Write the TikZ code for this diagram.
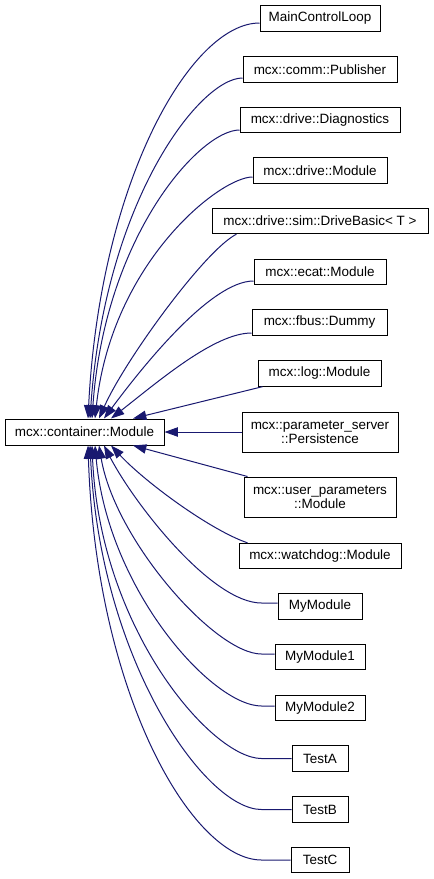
\documentclass[tikz,border=0pt]{standalone}
\usepackage{fontspec}
\setmainfont{Liberation Sans}
\usetikzlibrary{arrows.meta,calc}
\definecolor{edgeblue}{HTML}{191970}
\begin{document}
\begin{tikzpicture}[x=0.75pt,y=-0.75pt,
  cls/.style={draw=black,line width=0.75pt,fill=white,inner sep=0pt,
    minimum height=19pt,align=center,font=\fontsize{10.1}{10.6}\selectfont},
  inh/.style={draw=edgeblue,line width=0.75pt,-{Triangle[length=10pt,width=7pt]}}]
\useasboundingbox[fill=white] (0,0) rectangle (433,879);

\node[cls,minimum width=119.25pt,minimum height=19.5pt] (cont) at (84.5,432) {mcx::container::Module};

\node[cls,minimum width=90pt]    (main)   at (320,18.5)  {MainControlLoop};
\node[cls,minimum width=115.5pt] (pub)    at (320,69.5)  {mcx::comm::Publisher};
\node[cls,minimum width=120pt]   (diag)   at (320,120)   {mcx::drive::Diagnostics};
\node[cls,minimum width=100.5pt] (dmod)   at (320,170.5) {mcx::drive::Module};
\node[cls,minimum width=162pt]   (dbasic) at (320,221)   {mcx::drive::sim::DriveBasic< T >};
\node[cls,minimum width=99pt]    (ecat)   at (320,272)   {mcx::ecat::Module};
\node[cls,minimum width=101.25pt](fbus)   at (319.5,322.5) {mcx::fbus::Dummy};
\node[cls,minimum width=92.25pt] (log)    at (319.5,373.5) {mcx::log::Module};
\node[cls,minimum width=117pt,minimum height=30pt] (pers) at (320,432) {mcx::parameter\_server\\::Persistence};
\node[cls,minimum width=114pt,minimum height=30pt] (upar) at (320,497) {mcx::user\_parameters\\::Module};
\node[cls,minimum width=121.5pt] (wdog)   at (320,556)   {mcx::watchdog::Module};
\node[cls,minimum width=63pt]    (mym)    at (320,606.5) {MyModule};
\node[cls,minimum width=67.5pt]  (mym1)   at (320,657)   {MyModule1};
\node[cls,minimum width=67.5pt]  (mym2)   at (320,708)   {MyModule2};
\node[cls,minimum width=42pt]    (testa)  at (320,758.5) {TestA};
\node[cls,minimum width=42pt]    (testb)  at (320,809.5) {TestB};
\node[cls,minimum width=43.5pt]  (testc)  at (320,860)   {TestC};

% upper edges
\draw[inh] ($(main.west)+(0,4.5)$) .. controls (191,23) and (100,181) .. ($(cont.north)+(3.5,0)$);
\draw[inh] ($(pub.west)+(0,8.5)$) .. controls (200,78) and (105,200) .. ($(cont.north)+(5.5,0)$);
\draw[inh] ($(diag.west)+(0,10)$) .. controls (200,130) and (105,235) .. ($(cont.north)+(7.5,0)$);
\draw[inh] ($(dmod.west)+(0,6.5)$) .. controls (220,177) and (112,262) .. ($(cont.north)+(10.5,0)$);
\draw[inh] ($(dbasic.south west)+(25,0)$) .. controls (205,250) and (125,360) .. ($(cont.north)+(14.5,0)$);
\draw[inh] ($(ecat.west)+(0,9)$) .. controls (210,281) and (140,370) .. ($(cont.north)+(19.5,0)$);
\draw[inh] ($(fbus.west)+(0,10.5)$) .. controls (215,333) and (160,380) .. ($(cont.north)+(26.5,0)$);
\draw[inh] ($(log.south west)+(5,0)$) -- ($(cont.north)+(48.5,0)$);
\draw[inh] (pers.west) -- (cont.east);
% lower edges
\draw[inh] ($(upar.north west)+(4,0)$) -- ($(cont.south)+(48.5,0)$);
\draw[inh] ($(wdog.north west)+(9,0)$) .. controls (210,530) and (145,482) .. ($(cont.south)+(26.5,0)$);
\draw[inh] ($(mym.west)+(0,-3.5)$) -- ++(-16,0) .. controls (212,603) and (135,505) .. ($(cont.south)+(19.5,0)$);
\draw[inh] ($(mym1.west)+(0,-3)$) -- ++(-13,0) .. controls (215,654) and (115,540) .. ($(cont.south)+(14.5,0)$);
\draw[inh] ($(mym2.west)+(0,-2)$) -- ++(-13,0) .. controls (212,706) and (108,590) .. ($(cont.south)+(10.5,0)$);
\draw[inh] (testa.west) -- ++(-30,0) .. controls (212,758.5) and (100,630) .. ($(cont.south)+(7.5,0)$);
\draw[inh] (testb.west) -- ++(-30,0) .. controls (205,809.5) and (100,660) .. ($(cont.south)+(5.5,0)$);
\draw[inh] (testc.west) -- ++(-29,0) .. controls (192,860) and (96,694) .. ($(cont.south)+(3.5,0)$);
\end{tikzpicture}
\end{document}
